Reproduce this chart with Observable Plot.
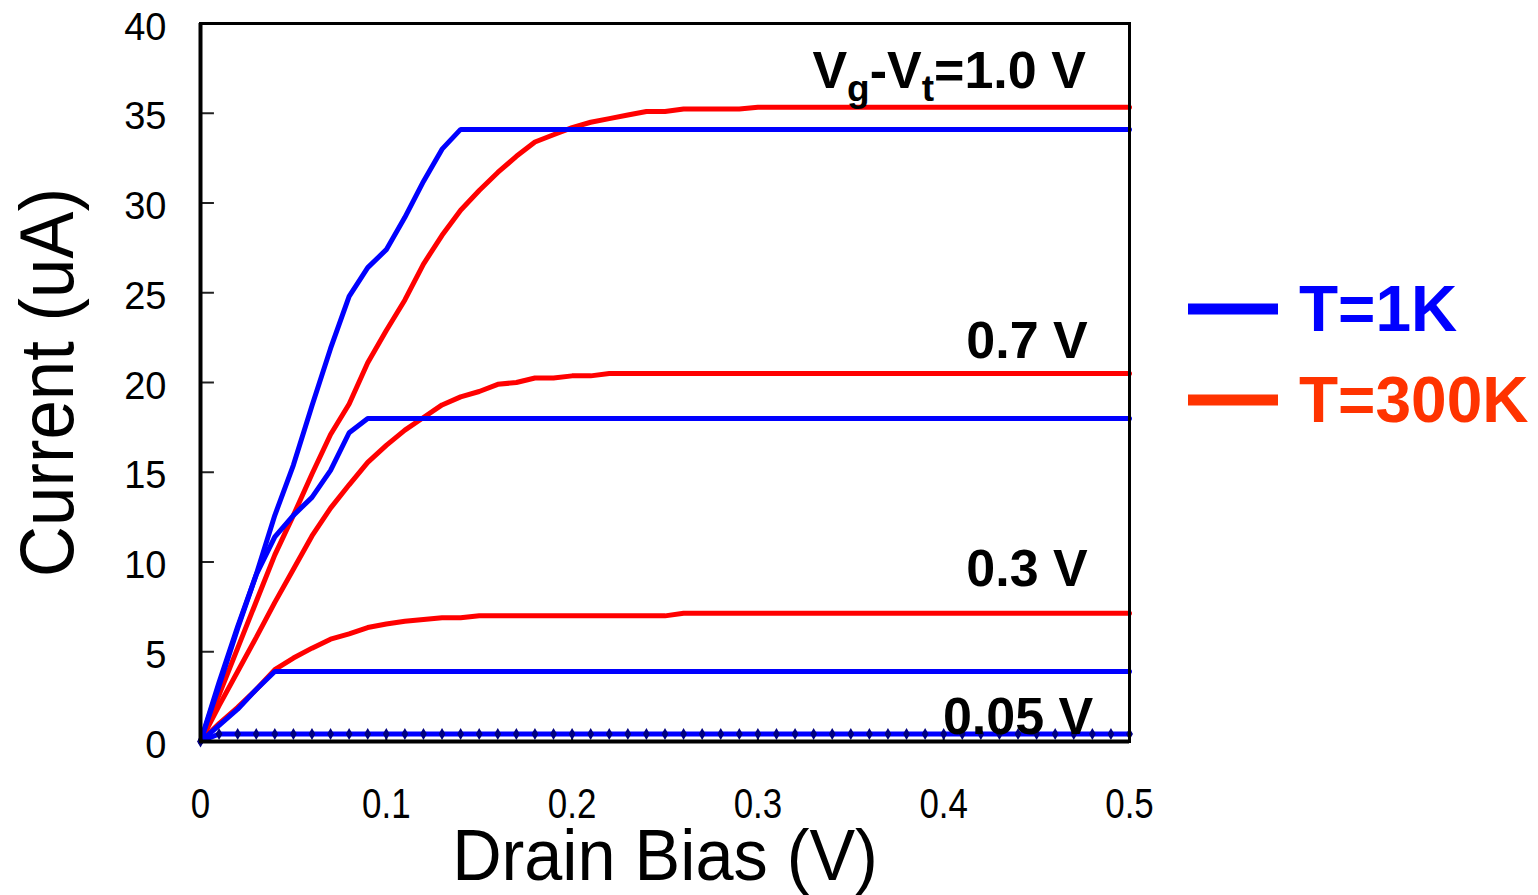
<!DOCTYPE html>
<html>
<head>
<meta charset="utf-8">
<script src="https://cdn.jsdelivr.net/npm/d3@7"></script>
<script src="https://cdn.jsdelivr.net/npm/@observablehq/plot@0.6"></script>
<style>
  html, body { margin: 0; padding: 0; background: white; }
  #chart { position: relative; width: 1538px; height: 895px; }
</style>
</head>
<body>
<div id="chart"></div>
<script>
// ---- Data (drain bias in V, current in uA) ----
const xTicks = [0, 0.1, 0.2, 0.3, 0.4, 0.5];
const yTicks = [0, 5, 10, 15, 20, 25, 30, 35, 40];
const xLabel = "Drain Bias (V)";
const yLabel = "Current (uA)";
const seriesNames = ["T=1K", "T=300K"];
const seriesColors = ["#0000FF", "#FF3300"];

// T = 1K (blue)
const vdBlue10 = [0, 0.01, 0.02, 0.03, 0.04, 0.05, 0.06, 0.07, 0.08, 0.09, 0.10, 0.11, 0.12, 0.13, 0.14, 0.5];
const idBlue10 = [0, 3.3, 6.4, 9.3, 12.6, 15.4, 18.7, 21.9, 24.8, 26.4, 27.4, 29.2, 31.2, 33.0, 34.1, 34.1];
const vdBlue07 = [0, 0.01, 0.02, 0.03, 0.04, 0.05, 0.06, 0.07, 0.08, 0.09, 0.5];
const idBlue07 = [0, 3.1, 6.3, 9.3, 11.4, 12.6, 13.6, 15.1, 17.2, 18.0, 18.0];
const vdBlue03 = [0, 0.01, 0.02, 0.03, 0.04, 0.5];
const idBlue03 = [0, 0.9, 1.8, 2.9, 3.9, 3.9];
const vdBlue005 = [0, 0.01, 0.02, 0.03, 0.04, 0.05, 0.06, 0.07, 0.08, 0.09, 0.10,
  0.11, 0.12, 0.13, 0.14, 0.15, 0.16, 0.17, 0.18, 0.19, 0.20,
  0.21, 0.22, 0.23, 0.24, 0.25, 0.26, 0.27, 0.28, 0.29, 0.30,
  0.31, 0.32, 0.33, 0.34, 0.35, 0.36, 0.37, 0.38, 0.39, 0.40,
  0.41, 0.42, 0.43, 0.44, 0.45, 0.46, 0.47, 0.48, 0.49, 0.50];
const idBlue005 = [0, 0.42, 0.42, 0.42, 0.42, 0.42, 0.42, 0.42, 0.42, 0.42, 0.42,
  0.42, 0.42, 0.42, 0.42, 0.42, 0.42, 0.42, 0.42, 0.42, 0.42,
  0.42, 0.42, 0.42, 0.42, 0.42, 0.42, 0.42, 0.42, 0.42, 0.42,
  0.42, 0.42, 0.42, 0.42, 0.42, 0.42, 0.42, 0.42, 0.42, 0.42,
  0.42, 0.42, 0.42, 0.42, 0.42, 0.42, 0.42, 0.42, 0.42, 0.42];

// T = 300K (red)
const vdRed10 = [0, 0.01, 0.02, 0.03, 0.04, 0.05, 0.06, 0.07, 0.08, 0.09, 0.10, 0.11, 0.12, 0.13, 0.14,
  0.15, 0.16, 0.17, 0.18, 0.19, 0.20, 0.21, 0.22, 0.23, 0.24, 0.25, 0.26, 0.29, 0.30, 0.5];
const idRed10 = [0, 2.6, 5.2, 7.8, 10.4, 12.6, 14.9, 17.1, 18.8, 21.1, 22.9, 24.6, 26.6, 28.2, 29.6,
  30.7, 31.7, 32.6, 33.4, 33.8, 34.2, 34.5, 34.7, 34.9, 35.1, 35.1, 35.24, 35.24, 35.33, 35.33];
const vdRed07 = [0, 0.01, 0.02, 0.03, 0.04, 0.05, 0.06, 0.07, 0.08, 0.09, 0.10, 0.11, 0.12, 0.13, 0.14,
  0.15, 0.16, 0.17, 0.18, 0.19, 0.20, 0.21, 0.22, 0.5];
const idRed07 = [0, 2.0, 3.9, 5.8, 7.75, 9.6, 11.45, 13.0, 14.3, 15.55, 16.5, 17.35, 18.05, 18.75, 19.2,
  19.5, 19.9, 20.0, 20.25, 20.25, 20.37, 20.37, 20.5, 20.5];
const vdRed03 = [0, 0.01, 0.02, 0.03, 0.04, 0.05, 0.06, 0.07, 0.08, 0.09, 0.10, 0.11, 0.12, 0.13, 0.14,
  0.15, 0.25, 0.26, 0.5];
const idRed03 = [0, 1.0, 1.9, 2.9, 4.0, 4.65, 5.2, 5.7, 6.0, 6.35, 6.55, 6.7, 6.8, 6.9, 6.9,
  7.0, 7.0, 7.15, 7.15];

// Curve annotations (gate overdrive)
const curveLabelText = ["Vg-Vt=1.0 V", "0.7 V", "0.3 V", "0.05 V"];
const curveLabelX = [0.4765, 0.4775, 0.4775, 0.4805];
const curveLabelY = [36.43, 21.38, 8.67, 0.40];

// ---- Build tables ----
const rows = (vs, is, temp, vg) => vs.map((v, k) => ({v, i: is[k], temp, vg}));
const redRows = [
  ...rows(vdRed10, idRed10, "T=300K", "1.0"),
  ...rows(vdRed07, idRed07, "T=300K", "0.7"),
  ...rows(vdRed03, idRed03, "T=300K", "0.3")
];
const blueRows = [
  ...rows(vdBlue10, idBlue10, "T=1K", "1.0"),
  ...rows(vdBlue07, idBlue07, "T=1K", "0.7"),
  ...rows(vdBlue03, idBlue03, "T=1K", "0.3")
];
const blue005Rows = rows(vdBlue005, idBlue005, "T=1K", "0.05");
const labels = curveLabelText.map((t, k) => ({text: t, x: curveLabelX[k], y: curveLabelY[k]}));

const sans = "'Liberation Sans', Arial, Helvetica, sans-serif";

const chart = Plot.plot({
  width: 1538,
  height: 895,
  marginLeft: 200,
  marginRight: 409,
  marginTop: 23,
  marginBottom: 154,
  x: {domain: [0, 0.5]},
  y: {domain: [0, 40]},
  style: {fontFamily: sans, background: "white", color: "black"},
  marks: [
    Plot.ruleY(yTicks, {x1: 0, x2: 0.0075, stroke: "#222", strokeWidth: 2}),
    Plot.ruleX(xTicks, {y1: 0, y2: 0.45, stroke: "#222", strokeWidth: 2}),
    Plot.line(redRows, {x: "v", y: "i", z: "vg", stroke: "#FF0000", strokeWidth: 5, strokeLinejoin: "miter"}),
    Plot.line(blueRows, {x: "v", y: "i", z: "vg", stroke: "#0000FF", strokeWidth: 5, strokeLinejoin: "miter"}),
    Plot.line(blue005Rows, {x: "v", y: "i", stroke: "#0000FF", strokeWidth: 5}),
    Plot.dot(blue005Rows, {x: "v", y: "i", symbol: "diamond", r: 3.6, fill: "#000080", stroke: "none"}),
    Plot.frame({stroke: "black", strokeWidth: 3}),
    Plot.ruleX([0], {stroke: "black", strokeWidth: 4}),
    Plot.ruleY([0], {stroke: "black", strokeWidth: 4}),
    Plot.axisY(yTicks, {tickSize: 0, tickPadding: 34, dy: 4, fontSize: 38, fontFamily: sans, label: null, tickFormat: d => String(d), className: "ytick"}),
    Plot.axisX(xTicks, {tickSize: 0, tickPadding: 47, fontSize: 42, fontFamily: sans, label: null, tickFormat: d => String(d), className: "xtick"}),
    Plot.text([xLabel], {frameAnchor: "bottom", lineAnchor: "top", dy: 87, fontSize: 72, fontFamily: sans, className: "xtitle"}),
    Plot.text([yLabel], {frameAnchor: "left", rotate: -90, dx: -152, textAnchor: "middle", lineAnchor: "middle", fontSize: 76, fontFamily: sans, className: "ytitle"}),
    Plot.text(labels, {x: "x", y: "y", text: "text", textAnchor: "end", lineAnchor: "bottom", fontSize: 52, fontWeight: "bold", fontFamily: sans, fill: "black"})
  ]
});

document.getElementById("chart").appendChild(chart);

// Condensed look of the axis texts (the original uses a narrow face)
function squeeze(selector, ratio) {
  d3.select(chart).selectAll(selector + " text").each(function() {
    const w = this.getComputedTextLength();
    this.setAttribute("textLength", (w * ratio).toFixed(1));
    this.setAttribute("lengthAdjust", "spacingAndGlyphs");
  });
}
squeeze(".xtick", 0.83);
squeeze(".xtitle", 0.95);
squeeze(".ytitle", 0.93);

// Subscripts for the Vg-Vt label
d3.select(chart).selectAll("text").filter(function() { return this.textContent === "Vg-Vt=1.0 V"; })
  .each(function() {
    const t = d3.select(this);
    t.text(null);
    t.append("tspan").text("V");
    t.append("tspan").attr("font-size", 37).attr("dy", 13).text("g");
    t.append("tspan").attr("dy", -13).text("-V");
    t.append("tspan").attr("font-size", 37).attr("dy", 13).text("t");
    t.append("tspan").attr("dy", -13).text("=1.0 V");
  });

// Legend (to the right of the plot)
const svg = d3.select(chart);
const leg = svg.append("g").attr("font-family", sans).attr("font-weight", "bold").attr("text-anchor", "start");
const legY = [309, 400];
seriesNames.forEach((name, k) => {
  leg.append("line").attr("x1", 1188).attr("x2", 1278).attr("y1", legY[k]).attr("y2", legY[k])
    .attr("stroke", seriesColors[k]).attr("stroke-width", 11);
  leg.append("text").attr("x", 1299).attr("y", legY[k] + 22).attr("font-size", 64)
    .attr("fill", seriesColors[k]).text(name);
});
</script>
</body>
</html>
